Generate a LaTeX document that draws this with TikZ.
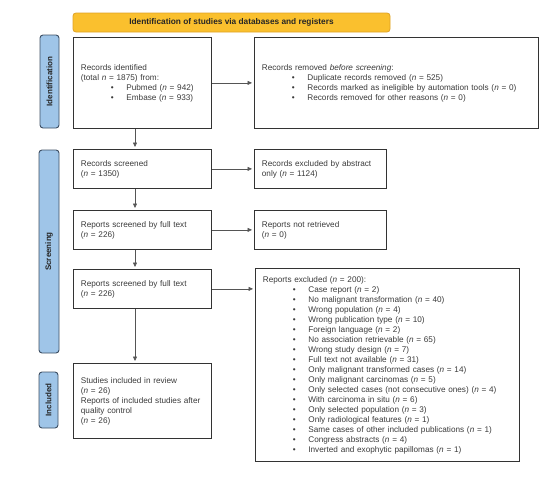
\documentclass[tikz,border=0pt]{standalone}
\usepackage{fontspec}
\setmainfont{Liberation Sans}
\usetikzlibrary{arrows.meta}
\definecolor{txt}{HTML}{3A3A3A}
\definecolor{bord}{HTML}{333333}
\definecolor{ban}{HTML}{FAC02E}
\definecolor{banb}{HTML}{DFA225}
\definecolor{sidef}{HTML}{9FC5E8}
\definecolor{sideb}{HTML}{3D4F63}
\definecolor{arr}{HTML}{555555}
\newcommand\bul[1]{\hspace*{30pt}\makebox[15.5pt][l]{\textbullet}#1}
\newcommand\nn{\textit{n}}
\begin{document}
\begin{tikzpicture}[x=1pt,y=-1pt,
  font=\fontsize{8.2}{10}\selectfont,
  box/.style={draw=bord, line width=0.8pt, anchor=north west, inner xsep=7.5pt, inner ysep=0pt, align=left, text=txt},
  side/.style={draw=sideb, fill=sidef, line width=0.9pt, rounded corners=3pt, rotate=90, inner sep=0pt, font=\fontsize{8}{9}\selectfont\bfseries, text=black!85},
  conn/.style={draw=arr, line width=0.6pt, -{Triangle[length=4.5pt,width=4pt]}, shorten >=2pt}]
\useasboundingbox (0,0) rectangle (550,479);

% banner
\node[draw=banb, fill=ban, line width=0.8pt, rounded corners=3pt, minimum width=317pt, minimum height=19pt, inner sep=0pt, font=\fontsize{8.3}{9}\selectfont\bfseries, text=black!85] (ban) at (231.5,22.5) {Identification of studies via databases and registers};

% side labels
\node[side, minimum width=93pt, minimum height=19pt] (sid) at (49.5,81.5) {Identification};
\node[side, minimum width=203pt, minimum height=20pt] (sscr) at (49,251.5) {Screening};
\node[side, minimum width=56pt, minimum height=19pt] (sinc) at (48.5,400) {Included};

% boxes
\node[box, text width=123pt, minimum height=91pt] (b1) at (73,37) {Records identified\\(total \nn{} = 1875) from:\\\bul{Pubmed (\nn{} = 942)}\\\bul{Embase (\nn{} = 933)}};
\node[box, text width=269pt, minimum height=91pt] (b2) at (254,37) {Records removed \textit{before screening}:\\\bul{Duplicate records removed (\nn{} = 525)}\\\bul{Records marked as ineligible by automation tools (\nn{} = 0)}\\\bul{Records removed for other reasons (\nn{} = 0)}};
\node[box, text width=123pt, minimum height=39pt] (rs) at (73,149) {Records screened\\(\nn{} = 1350)};
\node[box, text width=117pt, minimum height=39pt] (rea) at (254,149) {Records excluded by abstract\\only (\nn{} = 1124)};
\node[box, text width=123pt, minimum height=39pt] (rf1) at (73,210) {Reports screened by full text\\(\nn{} = 226)};
\node[box, text width=117pt, minimum height=39pt] (rnr) at (254,210) {Reports not retrieved\\(\nn{} = 0)};
\node[box, text width=123pt, minimum height=39pt] (rf2) at (73,269) {Reports screened by full text\\(\nn{} = 226)};
\node[box, text width=249pt, minimum height=193pt] (rex) at (255,268) {Reports excluded (\nn{} = 200):\\
\bul{Case report (\nn{} = 2)}\\
\bul{No malignant transformation (\nn{} = 40)}\\
\bul{Wrong population (\nn{} = 4)}\\
\bul{Wrong publication type (\nn{} = 10)}\\
\bul{Foreign language (\nn{} = 2)}\\
\bul{No association retrievable (\nn{} = 65)}\\
\bul{Wrong study design (\nn{} = 7)}\\
\bul{Full text not available (\nn{} = 31)}\\
\bul{Only malignant transformed cases (\nn{} = 14)}\\
\bul{Only malignant carcinomas (\nn{} = 5)}\\
\bul{Only selected cases (not consecutive ones) (\nn{} = 4)}\\
\bul{With carcinoma in situ (\nn{} = 6)}\\
\bul{Only selected population (\nn{} = 3)}\\
\bul{Only radiological features (\nn{} = 1)}\\
\bul{Same cases of other included publications (\nn{} = 1)}\\
\bul{Congress abstracts (\nn{} = 4)}\\
\bul{Inverted and exophytic papillomas (\nn{} = 1)}};
\node[box, text width=123pt, minimum height=75pt] (inc) at (73,363) {Studies included in review\\(\nn{} = 26)\\Reports of included studies after\\quality control\\(\nn{} = 26)};

% connectors
\draw[conn] (b1.east) -- (b2.west);
\draw[conn] (rs.east) -- (rea.west);
\draw[conn] (rf1.east) -- (rf1.east -| rnr.west);
\draw[conn] (rf2.east) -- (rf2.east -| rex.west);
\draw[conn] ([xshift=62pt]b1.south west) -- ([xshift=62pt]rs.north west);
\draw[conn] ([xshift=62pt]rs.south west) -- ([xshift=62pt]rf1.north west);
\draw[conn] ([xshift=62pt]rf1.south west) -- ([xshift=62pt]rf2.north west);
\draw[conn] ([xshift=62pt]rf2.south west) -- ([xshift=62pt]inc.north west);
\end{tikzpicture}
\end{document}
